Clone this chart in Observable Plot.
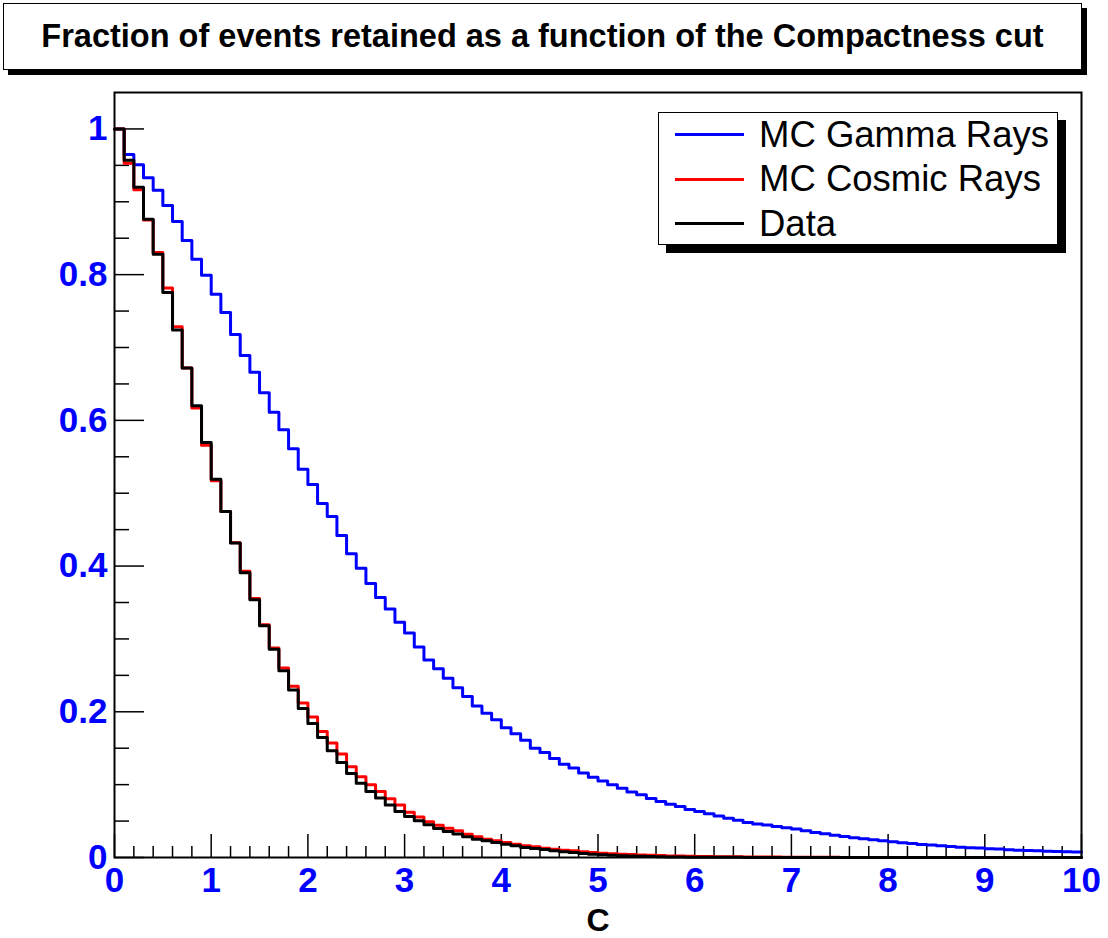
<!DOCTYPE html>
<html>
<head>
<meta charset="utf-8">
<script src="https://cdn.jsdelivr.net/npm/d3@7"></script>
<script src="https://cdn.jsdelivr.net/npm/@observablehq/plot@0.6"></script>
<style>
  body { margin: 0; background: #fff; }
  #wrap { position: relative; width: 1108px; height: 938px; overflow: hidden;
          font-family: "Liberation Sans", Arial, Helvetica, sans-serif; }
  #wrap svg { position: absolute; left: 0; top: 0; }
  .box { position: absolute; background: #fff; border: 1px solid #000; box-sizing: border-box; }
  #title { left: 3px; top: 3px; width: 1079px; height: 67px; box-shadow: 5px 5px 0 #000;
           text-align: center; line-height: 65px; font-weight: bold; font-size: 32.5px; color: #000; white-space: nowrap; }
  #legend { left: 658px; top: 112px; width: 400px; height: 133px; box-shadow: 8px 8px 0 #000; }
  .row { position: absolute; left: 0; width: 100%; height: 0; }
  .swatch { position: absolute; left: 16px; width: 69px; height: 3px; top: -1.5px; }
  .lab { position: absolute; left: 100px; top: 0; transform: translateY(-50%); font-size: 36.5px; line-height: 1; white-space: nowrap; color: #000; }
</style>
</head>
<body>
<div id="wrap">
  <div id="title" class="box"></div>
  <div id="legend" class="box"></div>
</div>
<script>
// ---- data ----
const titleText = "Fraction of events retained as a function of the Compactness cut";
const xLabel = "C";
const seriesNames = ["MC Gamma Rays", "MC Cosmic Rays", "Data"];
const seriesColors = ["#0000ff", "#ff0000", "#000000"];
const binWidth = 0.1;
const binLow = d3.range(100).map(i => +(i * binWidth).toFixed(1));
const xMajorTicks = [0, 1, 2, 3, 4, 5, 6, 7, 8, 9, 10];
const xMinorTicks = d3.range(0, 50).map(i => +(i * 0.2).toFixed(1)).filter(v => !Number.isInteger(v));
const yMajorTicks = [0, 0.2, 0.4, 0.6, 0.8, 1];
const yMinorTicks = [0.05, 0.1, 0.15, 0.25, 0.3, 0.35, 0.45, 0.5, 0.55, 0.65, 0.7, 0.75, 0.85, 0.9, 0.95];

const gammaMC = [
  1.0, 0.965, 0.951, 0.933, 0.916, 0.895, 0.873, 0.847, 0.821, 0.799,
  0.773, 0.748, 0.718, 0.689, 0.666, 0.638, 0.611, 0.587, 0.561, 0.533,
  0.512, 0.486, 0.468, 0.442, 0.417, 0.397, 0.376, 0.357, 0.341, 0.323,
  0.308, 0.289, 0.271, 0.259, 0.246, 0.233, 0.221, 0.208, 0.198, 0.189,
  0.178, 0.170, 0.161, 0.150, 0.144, 0.136, 0.128, 0.123, 0.116, 0.110,
  0.105, 0.100, 0.095, 0.090, 0.086, 0.081, 0.077, 0.073, 0.070, 0.066,
  0.063, 0.060, 0.057, 0.054, 0.051, 0.048, 0.046, 0.0445, 0.0427, 0.041,
  0.039, 0.0366, 0.0343, 0.0325, 0.0307, 0.0288, 0.027, 0.0256, 0.0243, 0.0229,
  0.0215, 0.0202, 0.0192, 0.0179, 0.017, 0.016, 0.0151, 0.0142, 0.0133, 0.0129,
  0.012, 0.0115, 0.0106, 0.0101, 0.0096, 0.0092, 0.0087, 0.0082, 0.0078, 0.0074
];
const cosmicMC = [
  1.0, 0.953, 0.9165, 0.875, 0.8305, 0.7816, 0.7285, 0.672, 0.617, 0.566,
  0.517, 0.475, 0.432, 0.393, 0.3555, 0.3194, 0.2875, 0.260, 0.235, 0.212,
  0.193, 0.173, 0.157, 0.142, 0.1245, 0.111, 0.100, 0.0906, 0.0805, 0.072,
  0.062, 0.0555, 0.049, 0.0444, 0.0403, 0.0366, 0.032, 0.0284, 0.0252, 0.0229,
  0.0206, 0.0183, 0.016, 0.0146, 0.0128, 0.0114, 0.0101, 0.0092, 0.0078, 0.0069,
  0.006, 0.005, 0.0045, 0.004, 0.0035, 0.003, 0.0026, 0.0022, 0.002, 0.0018,
  0.0015, 0.0013, 0.0012, 0.001, 0.0009, 0.0008, 0.0007, 0.0006, 0.0006, 0.0005,
  0.0004, 0.0003, 0.0003, 0.0002, 0.0002, 0.0001, 0.0001, 0.0001, 0.0001, 0.0001,
  0, 0, 0, 0, 0, 0, 0, 0, 0, 0,
  0, 0, 0, 0, 0, 0, 0, 0, 0, 0
];
const dataCR = [
  1.0, 0.957, 0.920, 0.876, 0.828, 0.7756, 0.724, 0.672, 0.620, 0.5697,
  0.519, 0.475, 0.4316, 0.391, 0.3537, 0.318, 0.286, 0.2563, 0.2298, 0.2045,
  0.184, 0.1647, 0.1465, 0.1304, 0.1153, 0.102, 0.0906, 0.0815, 0.0719, 0.0632,
  0.0563, 0.0504, 0.0449, 0.0398, 0.0357, 0.0321, 0.0284, 0.0252, 0.0229, 0.0206,
  0.0183, 0.016, 0.0137, 0.0124, 0.011, 0.0092, 0.0078, 0.0069, 0.0055, 0.0046,
  0.0037, 0.003, 0.0025, 0.002, 0.0016, 0.0013, 0.001, 0.0008, 0.0006, 0.0005,
  0.0004, 0.0003, 0.0003, 0.0002, 0.0002, 0.0001, 0, 0, 0, 0,
  0, 0, 0, 0, 0, 0, 0, 0, 0, 0,
  0, 0, 0, 0, 0, 0, 0, 0, 0, 0,
  0, 0, 0, 0, 0, 0, 0, 0, 0, 0
];
const seriesValues = [gammaMC, cosmicMC, dataCR];

// ---- layout ----
const W = 1108, H = 938, mL = 114, mR = 27, mT = 92, mB = 81;
const innerW = W - mL - mR, innerH = H - mT - mB;
const font = '"Liberation Sans", Arial, Helvetica, sans-serif';

function stepPoints(vals) {
  const pts = binLow.map((x, i) => ({x, y: vals[i]}));
  pts.push({x: binLow[binLow.length - 1] + binWidth, y: vals[vals.length - 1]});
  return pts;
}

const chart = Plot.plot({
  width: W, height: H,
  marginLeft: mL, marginRight: mR, marginTop: mT, marginBottom: mB,
  x: {domain: [0, 10]},
  y: {domain: [0, 1.05]},
  style: {fontFamily: font, background: "transparent", overflow: "visible"},
  marks: [
    Plot.ruleY(yMinorTicks, {y: d => d, insetRight: innerW - 15, stroke: "#000", strokeWidth: 1.5}),
    Plot.ruleY(yMajorTicks, {y: d => d, insetRight: innerW - 30, stroke: "#000", strokeWidth: 1.5}),
    Plot.ruleX(xMinorTicks, {x: d => d, insetTop: innerH - 11, stroke: "#000", strokeWidth: 1.5}),
    Plot.ruleX(xMajorTicks, {x: d => d, insetTop: innerH - 23, stroke: "#000", strokeWidth: 1.5}),
    ...seriesValues.map((vals, k) =>
      Plot.line(stepPoints(vals), {x: "x", y: "y", curve: "step-after", stroke: seriesColors[k], strokeWidth: 3})
    ),
    Plot.frame({stroke: "#000", strokeWidth: 2}),
    Plot.axisX(xMajorTicks, {tickSize: 0, tickPadding: 10, fontSize: 35, fontWeight: "bold", fill: "#0000ff",
      tickFormat: d => String(d), label: null}),
    Plot.axisY(yMajorTicks, {tickSize: 0, tickPadding: 7, fontSize: 35, fontWeight: "bold", fill: "#0000ff",
      tickFormat: d => String(d), label: null}),
    Plot.text([xLabel], {frameAnchor: "bottom", dy: 63, text: d => d, fontSize: 32, fontWeight: "bold", fill: "#000", lineAnchor: "middle"})
  ]
});
document.getElementById("wrap").insertBefore(chart, document.getElementById("title"));

document.getElementById("title").textContent = titleText;
const legend = document.getElementById("legend");
const rowY = [21.7, 66, 110.7];
seriesNames.forEach((name, k) => {
  const row = document.createElement("div");
  row.className = "row";
  row.style.top = rowY[k] + "px";
  const sw = document.createElement("div");
  sw.className = "swatch";
  sw.style.background = seriesColors[k];
  const lab = document.createElement("div");
  lab.className = "lab";
  lab.textContent = name;
  row.appendChild(sw); row.appendChild(lab);
  legend.appendChild(row);
});
</script>
</body>
</html>
